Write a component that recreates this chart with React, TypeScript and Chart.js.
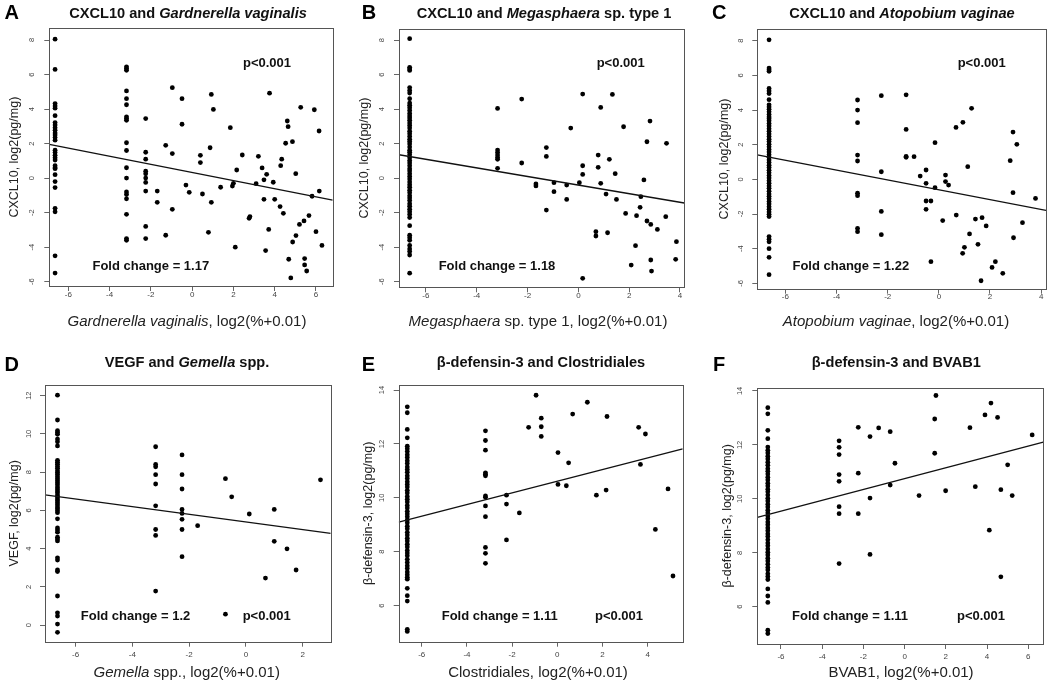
import React, { useEffect, useRef } from "react";
import { Chart, registerables } from "chart.js";

Chart.register(...registerables);

const FONT = '"Liberation Sans", Arial, Helvetica, sans-serif';

// discrete x positions: log2(% + 0.01) for 0, 0.1, 0.2, 0.3 %
const X_NONE = -6.64;
const X_01 = -3.18;
const X_02 = -2.25;
const X_03 = -1.68;

// ---------- Panel A: CXCL10 vs Gardnerella vaginalis ----------
const aColNone = [8.05, 6.3, 4.32, 4.18, 4.05, 3.62, 3.22, 3.08, 2.92, 2.78, 2.62, 2.5, 2.35, 2.2, 1.62, 1.48, 1.32, 1.18, 1.05, 0.72, 0.6, 0.55, 0.2, -0.2, -0.55, -1.75, -1.95, -4.5, -5.5];
const aCol01 = [6.45, 6.35, 6.25, 5.05, 4.6, 4.25, 3.55, 3.45, 3.35, 2.05, 1.6, 0.6, 0.0, -0.8, -0.95, -1.2, -2.1, -3.5, -3.6];
const aCol02 = [3.45, 1.5, 1.1, 0.4, 0.25, 0.0, -0.25, -0.75, -2.8, -3.5];
const aScatter: [number, number][] = [
  [-1.69, -0.75], [-1.69, -1.4], [-1.28, 1.9], [-1.28, -3.31], [-0.96, 5.24], [-0.96, 1.42], [-0.96, -1.81],
  [-0.49, 4.6], [-0.49, 3.12], [-0.3, -0.4], [-0.14, -0.82], [0.4, 1.32], [0.4, 0.9], [0.5, -0.92],
  [0.79, -3.14], [0.87, 1.76], [0.93, -1.4], [0.93, 4.85], [1.03, 3.98], [1.38, -0.53], [1.85, 2.92],
  [1.95, -0.46], [2.0, -0.3], [2.09, -4.0], [2.16, 0.47], [2.43, 1.34], [2.76, -2.33], [2.8, -2.23],
  [3.1, -0.32], [3.21, 1.26], [3.75, 4.92], [3.39, 0.59], [3.48, -1.23], [3.48, -0.1], [3.61, 0.22],
  [3.56, -4.2], [3.71, -2.97], [3.93, -0.24], [4.0, -1.23], [4.26, -1.65], [4.29, 0.72], [4.34, 1.1],
  [4.42, -2.04], [4.53, 2.02], [4.61, 3.31], [4.65, 2.98], [4.68, -4.7], [4.78, -5.78], [4.86, 2.11],
  [4.87, -3.7], [5.03, -3.33], [5.02, 0.26], [5.2, -2.68], [5.26, 4.1], [5.42, -2.48], [5.45, -4.66],
  [5.45, -5.03], [5.55, -5.38], [5.66, -2.17], [5.81, -1.05], [5.92, 3.96], [6.0, -3.1], [6.15, 2.73],
  [6.16, -0.75], [6.29, -3.9],
];
const aFit: [number, number] = [0.33, -0.235]; // intercept, slope

// ---------- Panel B: CXCL10 vs Megasphaera sp. type 1 ----------
const bColNone = [8.08, 6.42, 6.33, 6.24, 5.25, 5.08, 4.93, 4.6, 4.35, 4.22, 4.08, 3.92, 3.75, 3.6, 3.48, 3.35, 3.2, 3.05, 2.9, 2.72, 2.58, 2.42, 2.25, 2.12, 1.98, 1.8, 1.62, 1.5, 1.35, 1.18, 1.02, 0.88, 0.72, 0.55, 0.42, 0.25, 0.1, -0.05, -0.22, -0.38, -0.52, -0.7, -0.85, -1.02, -1.15, -1.3, -1.48, -1.62, -1.8, -1.95, -2.1, -2.28, -2.75, -3.3, -3.45, -3.6, -3.9, -4.1, -4.25, -4.45, -5.5];
const bCol01 = [4.04, 1.63, 1.48, 1.34, 1.2, 1.09, 0.57];
const bScatter: [number, number][] = [
  [-2.23, 4.58], [-2.23, 0.88], [-1.67, -0.33], [-1.67, -0.45], [-1.26, 1.77], [-1.26, 1.26], [-1.26, -1.85],
  [-0.96, -0.26], [-0.96, -0.78], [-0.46, -0.4], [-0.46, -1.23], [-0.3, 2.9], [0.04, -0.26], [0.17, 4.87],
  [0.17, 0.72], [0.17, 0.22], [0.17, -5.8], [0.69, -3.1], [0.69, -3.35], [0.78, 1.34], [0.78, 0.63],
  [0.88, 4.1], [0.88, -0.3], [1.09, -0.92], [1.15, -3.16], [1.22, 1.09], [1.34, 4.85], [1.45, 0.26],
  [1.5, -1.23], [1.78, 2.98], [1.86, -2.04], [2.08, -5.03], [2.25, -3.91], [2.29, -2.17], [2.43, -1.69],
  [2.46, -1.07], [2.58, -0.1], [2.7, 2.11], [2.7, -2.48], [2.82, 3.31], [2.85, -2.68], [2.85, -4.74],
  [2.88, -5.38], [3.11, -2.97], [3.44, -2.23], [3.47, 2.02], [3.83, -4.7], [3.86, -3.68],
];
const bFit: [number, number] = [-0.4, -0.249];

// ---------- Panel C: CXCL10 vs Atopobium vaginae ----------
const cColNone = [8.05, 6.42, 6.33, 6.24, 5.25, 5.1, 4.95, 4.6, 4.3, 4.18, 4.05, 3.9, 3.75, 3.6, 3.5, 3.38, 3.22, 3.08, 2.92, 2.78, 2.62, 2.48, 2.32, 2.18, 2.02, 1.88, 1.72, 1.58, 1.42, 1.28, 1.12, 0.98, 0.82, 0.68, 0.52, 0.38, 0.22, 0.08, -0.08, -0.22, -0.38, -0.52, -0.68, -0.85, -0.98, -1.12, -1.28, -1.42, -1.58, -1.72, -1.88, -2.02, -2.15, -3.3, -3.45, -3.6, -4.0, -4.5, -5.5];
const cCol01 = [4.58, 4.0, 3.27, 1.4, 1.06, -0.8, -0.94, -2.83, -3.02];
const cCol02 = [4.83, 0.44, -1.85, -3.19];
const cScatter: [number, number][] = [
  [-1.28, 4.88], [-1.28, 2.88], [-1.28, 1.33], [-1.28, 1.27], [-0.97, 1.31], [-0.73, 0.19], [-0.5, 0.54],
  [-0.5, -0.23], [-0.5, -1.25], [-0.5, -1.73], [-0.31, -1.25], [-0.31, -4.75], [-0.15, 2.12], [-0.15, -0.48],
  [0.15, -2.38], [0.26, 0.25], [0.26, -0.13], [0.38, -0.33], [0.67, 3.0], [0.68, -2.06], [0.94, 3.29],
  [0.93, -4.27], [1.0, -3.92], [1.13, 0.73], [1.2, -3.15], [1.28, 4.1], [1.43, -2.29], [1.53, -3.75],
  [1.65, -5.85], [1.69, -2.21], [1.85, -2.69], [2.08, -5.08], [2.21, -4.75], [2.5, -5.42], [2.79, 1.08],
  [2.9, 2.73], [2.9, -0.77], [2.92, -3.37], [3.05, 2.02], [3.27, -2.5], [3.78, -1.1],
];
const cFit: [number, number] = [-0.6, -0.284];

// ---------- Panel D: VEGF vs Gemella spp. ----------
const dColNone = [12.03, 10.73, 10.17, 10.08, 9.98, 9.73, 9.59, 9.37, 8.62, 8.52, 8.42, 8.3, 8.2, 8.08, 7.98, 7.88, 7.76, 7.66, 7.55, 7.45, 7.34, 7.22, 7.12, 7.02, 6.92, 6.8, 6.7, 6.6, 6.5, 6.4, 6.3, 6.18, 6.08, 5.98, 5.88, 5.56, 5.08, 4.97, 4.86, 4.6, 4.5, 4.4, 3.52, 3.4, 2.88, 2.8, 1.52, 0.64, 0.47, 0.05, -0.38];
const dCol01 = [9.33, 8.4, 8.28, 7.87, 7.38, 6.24, 5.0, 4.69, 1.78];
const dCol02 = [8.9, 7.87, 7.12, 6.05, 5.84, 5.53, 5.0, 3.58];
const dScatter: [number, number][] = [
  [-1.7, 5.2], [-0.72, 7.66], [-0.72, 0.57], [-0.5, 6.71], [0.12, 5.81], [0.69, 2.46], [1.0, 6.05],
  [1.0, 4.38], [1.45, 3.99], [1.77, 2.88], [2.63, 7.6],
];
const dFit: [number, number] = [5.4, -0.2];

// ---------- Panel E: beta-defensin-3 vs Clostridiales ----------
const eColNone = [13.38, 13.16, 12.54, 12.23, 11.92, 11.82, 11.72, 11.6, 11.5, 11.38, 11.28, 11.15, 11.05, 10.95, 10.82, 10.72, 10.6, 10.5, 10.4, 10.28, 10.18, 10.05, 9.95, 9.85, 9.72, 9.62, 9.5, 9.4, 9.3, 9.18, 9.08, 8.95, 8.85, 8.72, 8.62, 8.5, 8.4, 8.28, 8.18, 8.05, 7.95, 7.85, 7.72, 7.6, 7.48, 7.38, 7.25, 7.15, 7.05, 6.98, 6.64, 6.37, 6.17, 5.12, 5.04];
const eCol01 = [12.49, 12.13, 11.77, 10.93, 10.88, 10.82, 10.07, 10.02, 9.7, 9.3, 8.16, 7.94, 7.57];
const eCol02 = [10.1, 9.77, 8.44];
const eScatter: [number, number][] = [
  [-1.68, 9.44], [-1.27, 12.62], [-0.94, 13.81], [-0.71, 12.96], [-0.71, 12.64], [-0.71, 12.28],
  [0.03, 11.68], [0.03, 10.5], [0.4, 10.45], [0.5, 11.3], [0.68, 13.11], [1.33, 13.55], [1.73, 10.1],
  [2.16, 10.29], [2.2, 13.02], [3.6, 12.62], [3.68, 11.24], [3.9, 12.37], [4.34, 8.83], [4.9, 10.33],
  [5.12, 7.1],
];
const eFit: [number, number] = [10.62, 0.216];

// ---------- Panel F: beta-defensin-3 vs BVAB1 ----------
const fColNone = [13.38, 13.15, 12.54, 12.23, 11.92, 11.8, 11.7, 11.58, 11.48, 11.36, 11.25, 11.12, 11.02, 10.92, 10.8, 10.7, 10.58, 10.48, 10.36, 10.26, 10.14, 10.02, 9.92, 9.8, 9.7, 9.58, 9.48, 9.36, 9.26, 9.14, 9.04, 8.92, 8.82, 8.7, 8.6, 8.48, 8.36, 8.26, 8.14, 8.02, 7.92, 7.8, 7.7, 7.58, 7.46, 7.36, 7.22, 7.12, 7.01, 6.66, 6.4, 6.16, 5.13, 5.01];
const fCol01 = [12.15, 11.91, 11.64, 10.9, 10.65, 9.71, 9.45, 7.6];
const fCol02 = [12.65, 10.95, 9.45];
const fCol03 = [12.31, 10.03, 7.94];
const fScatter: [number, number][] = [
  [-1.26, 12.63], [-0.7, 12.49], [-0.7, 10.51], [-0.47, 11.32], [0.7, 10.12], [1.46, 12.96], [1.46, 11.69],
  [1.52, 13.83], [1.99, 10.3], [3.17, 12.64], [3.43, 10.45], [3.9, 13.11], [4.11, 8.84], [4.19, 13.55],
  [4.51, 13.02], [4.67, 10.34], [4.67, 7.11], [5.0, 11.26], [5.22, 10.12], [6.19, 12.37],
];
const fFit: [number, number] = [10.75, 0.201];

// tick values
const cxclYTicks = [-6, -4, -2, 0, 2, 4, 6, 8];
const vegfYTicks = [0, 2, 4, 6, 8, 10, 12];
const defYTicks = [6, 8, 10, 12, 14];
const xTicksTo6 = [-6, -4, -2, 0, 2, 4, 6];
const xTicksTo4 = [-6, -4, -2, 0, 2, 4];
const xTicksTo2 = [-6, -4, -2, 0, 2];

type Seg = [string, boolean?];

interface PanelCfg {
  letter: string;
  rect: [number, number, number, number];
  area: [number, number, number, number];
  xRange: [number, number];
  yRange: [number, number];
  xTicks: number[];
  yTicks: number[];
  cols: [number, number[]][];
  scatter: [number, number][];
  fit: [number, number];
  title: Seg[];
  xTitle: Seg[];
  yTitle: string;
  fold: string;
  letterPos: [number, number];
  titlePos: [number, number];
  xTitlePos: [number, number];
  yTitleX: number;
  pPos: [number, number];
  foldPos: [number, number];
  xLabelY: number;
  yTickGap: number;
}

const LOG_UNIT = ", log2(%+0.01)";

const panels: PanelCfg[] = [
  {
    letter: "A", rect: [0, 0, 350, 343], area: [49.3, 28.3, 332.7, 286],
    xRange: [-6.92, 6.81], yRange: [-6.25, 8.68], xTicks: xTicksTo6, yTicks: cxclYTicks,
    cols: [[X_NONE, aColNone], [X_01, aCol01], [X_02, aCol02]], scatter: aScatter, fit: aFit,
    title: [["CXCL10 and "], ["Gardnerella vaginalis", true]],
    xTitle: [["Gardnerella vaginalis", true], [LOG_UNIT]], yTitle: "CXCL10, log2(pg/mg)",
    fold: "Fold change = 1.17",
    letterPos: [11.7, 13.5], titlePos: [188, 14], xTitlePos: [187, 321.7], yTitleX: 15,
    pPos: [267, 63.3], foldPos: [150.8, 266.7], xLabelY: 295, yTickGap: 17.3,
  },
  {
    letter: "B", rect: [350, 0, 350, 343], area: [399, 29, 684.3, 287.3],
    xRange: [-7.06, 4.17], yRange: [-6.32, 8.64], xTicks: xTicksTo4, yTicks: cxclYTicks,
    cols: [[X_NONE, bColNone], [X_01, bCol01]], scatter: bScatter, fit: bFit,
    title: [["CXCL10 and "], ["Megasphaera", true], [" sp. type 1"]],
    xTitle: [["Megasphaera", true], [" sp. type 1" + LOG_UNIT]], yTitle: "CXCL10, log2(pg/mg)",
    fold: "Fold change = 1.18",
    letterPos: [369, 13.5], titlePos: [544, 14], xTitlePos: [538, 321.7], yTitleX: 365,
    pPos: [620.7, 63.3], foldPos: [497, 266.7], xLabelY: 295.3, yTickGap: 17.3,
  },
  {
    letter: "C", rect: [700, 0, 350, 343], area: [757.3, 29.3, 1047.7, 288.7],
    xRange: [-7.1, 4.19], yRange: [-6.31, 8.66], xTicks: xTicksTo4, yTicks: cxclYTicks,
    cols: [[X_NONE, cColNone], [X_01, cCol01], [X_02, cCol02]], scatter: cScatter, fit: cFit,
    title: [["CXCL10 and "], ["Atopobium vaginae", true]],
    xTitle: [["Atopobium vaginae", true], [LOG_UNIT]], yTitle: "CXCL10, log2(pg/mg)",
    fold: "Fold change = 1.22",
    letterPos: [719.3, 13.5], titlePos: [902, 14], xTitlePos: [896, 321.7], yTitleX: 725,
    pPos: [981.7, 63.3], foldPos: [850.8, 266.7], xLabelY: 296.7, yTickGap: 16.6,
  },
  {
    letter: "D", rect: [0, 343, 350, 343], area: [45, 385, 330.7, 641.7],
    xRange: [-7.08, 2.99], yRange: [-0.87, 12.56], xTicks: xTicksTo2, yTicks: vegfYTicks,
    cols: [[X_NONE, dColNone], [X_01, dCol01], [X_02, dCol02]], scatter: dScatter, fit: dFit,
    title: [["VEGF and "], ["Gemella", true], [" spp."]],
    xTitle: [["Gemella", true], [" spp." + LOG_UNIT]], yTitle: "VEGF, log2(pg/mg)",
    fold: "Fold change = 1.2",
    letterPos: [11.7, 365.5], titlePos: [187, 363.3], xTitlePos: [186.7, 673.3], yTitleX: 15,
    pPos: [266.7, 616], foldPos: [135.5, 616], xLabelY: 655, yTickGap: 16,
  },
  {
    letter: "E", rect: [350, 343, 350, 343], area: [398.7, 385, 682.7, 641.7],
    xRange: [-7.02, 5.55], yRange: [4.66, 14.19], xTicks: xTicksTo4, yTicks: defYTicks,
    cols: [[X_NONE, eColNone], [X_01, eCol01], [X_02, eCol02]], scatter: eScatter, fit: eFit,
    title: [["β-defensin-3 and Clostridiales"]],
    xTitle: [["Clostridiales" + LOG_UNIT]], yTitle: "β-defensin-3, log2(pg/mg)",
    fold: "Fold change = 1.11",
    letterPos: [368.3, 365.5], titlePos: [541, 363.3], xTitlePos: [538, 673.3], yTitleX: 368.3,
    pPos: [619, 616], foldPos: [499.7, 616], xLabelY: 655, yTickGap: 17,
  },
  {
    letter: "F", rect: [700, 343, 350, 343], area: [757.3, 387.7, 1043.3, 644],
    xRange: [-7.15, 6.73], yRange: [4.62, 14.12], xTicks: xTicksTo6, yTicks: defYTicks,
    cols: [[X_NONE, fColNone], [X_01, fCol01], [X_02, fCol02], [X_03, fCol03]], scatter: fScatter, fit: fFit,
    title: [["β-defensin-3 and BVAB1"]],
    xTitle: [["BVAB1" + LOG_UNIT]], yTitle: "β-defensin-3, log2(pg/mg)",
    fold: "Fold change = 1.11",
    letterPos: [719.2, 365.5], titlePos: [896.3, 363.3], xTitlePos: [901, 673.3], yTitleX: 727.3,
    pPos: [981, 616], foldPos: [850, 616], xLabelY: 656.7, yTickGap: 17.3,
  },
];

const Y_AXIS_W = 20;
const X_AXIS_H = 20;
const TICK_LEN = 5;
const X_TICK_FONT = 8;
const Y_TICK_FONT = 7.5;

function drawSegs(ctx: CanvasRenderingContext2D, segs: Seg[], cx: number, cy: number, size: number, weight: string, color: string) {
  const fonts = segs.map(([, it]) => `${it ? "italic " : ""}${weight} ${size}px ${FONT}`);
  let total = 0;
  const widths = segs.map(([t], i) => {
    ctx.font = fonts[i];
    const w = ctx.measureText(t).width;
    total += w;
    return w;
  });
  let x = cx - total / 2;
  ctx.fillStyle = color;
  ctx.textAlign = "left";
  ctx.textBaseline = "middle";
  segs.forEach(([t], i) => {
    ctx.font = fonts[i];
    ctx.fillText(t, x, cy);
    x += widths[i];
  });
}

const decorPlugin = {
  id: "decor",
  afterDraw(chart: any, _args: any, o: any) {
    const p: PanelCfg = o.panel;
    if (!p) return;
    const { ctx, chartArea: a } = chart;
    const ox = p.rect[0];
    const oy = p.rect[1];
    ctx.save();
    // plot box
    ctx.strokeStyle = "#555";
    ctx.lineWidth = 1;
    const l = Math.round(a.left) + 0.5, t = Math.round(a.top) + 0.5;
    const r = Math.round(a.right) + 0.5, b = Math.round(a.bottom) + 0.5;
    ctx.strokeRect(l, t, r - l, b - t);
    // rotated y tick labels
    const ys = chart.scales.y;
    ctx.fillStyle = "#444";
    ctx.font = `${Y_TICK_FONT}px ${FONT}`;
    ctx.textAlign = "center";
    ctx.textBaseline = "middle";
    ys.ticks.forEach((tk: any) => {
      const py = ys.getPixelForValue(tk.value);
      ctx.save();
      ctx.translate(a.left - p.yTickGap, py);
      ctx.rotate(-Math.PI / 2);
      ctx.fillText(String(tk.value), 0, 0);
      ctx.restore();
    });
    // panel letter
    ctx.fillStyle = "#000";
    ctx.font = `bold 20px ${FONT}`;
    ctx.textAlign = "center";
    ctx.textBaseline = "middle";
    ctx.fillText(p.letter, p.letterPos[0] - ox, p.letterPos[1] - oy);
    // title
    drawSegs(ctx, p.title, p.titlePos[0] - ox, p.titlePos[1] - oy, 14.6, "bold", "#111");
    // x title
    drawSegs(ctx, p.xTitle, p.xTitlePos[0] - ox, p.xTitlePos[1] - oy, 15, "normal", "#222");
    // y title
    ctx.save();
    ctx.translate(p.yTitleX - ox, (a.top + a.bottom) / 2);
    ctx.rotate(-Math.PI / 2);
    drawSegs(ctx, [[p.yTitle]], 0, 0, 12.5, "normal", "#222");
    ctx.restore();
    // annotations
    drawSegs(ctx, [["p<0.001"]], p.pPos[0] - ox, p.pPos[1] - oy, 13, "bold", "#111");
    drawSegs(ctx, [[p.fold]], p.foldPos[0] - ox, p.foldPos[1] - oy, 13, "bold", "#111");
    ctx.restore();
  },
};

function buildConfig(p: PanelCfg): any {
  const [cx, cy, cw, ch] = p.rect;
  const [L, T, R, B] = p.area;
  const points: { x: number; y: number }[] = [];
  p.cols.forEach(([x, ys]) => ys.forEach((y) => points.push({ x, y })));
  p.scatter.forEach(([x, y]) => points.push({ x, y }));
  const [icpt, slope] = p.fit;
  const fitLine = p.xRange.map((x) => ({ x, y: icpt + slope * x }));
  const xPad = p.xLabelY - B - TICK_LEN - (X_TICK_FONT * 1.2) / 2;
  return {
    type: "scatter",
    data: {
      datasets: [
        {
          type: "line",
          data: fitLine,
          borderColor: "#111",
          borderWidth: 1.3,
          pointRadius: 0,
          fill: false,
          tension: 0,
        },
        {
          type: "scatter",
          data: points,
          pointRadius: 2.4,
          pointBackgroundColor: "#000",
          pointBorderColor: "#000",
          pointBorderWidth: 0,
        },
      ],
    },
    options: {
      responsive: false,
      animation: false,
      devicePixelRatio: 1,
      events: [],
      layout: {
        padding: {
          left: L - cx - Y_AXIS_W,
          top: T - cy,
          right: cx + cw - R,
          bottom: cy + ch - B - X_AXIS_H,
        },
      },
      plugins: {
        legend: { display: false },
        tooltip: { enabled: false },
        title: { display: false },
        decor: { panel: p },
      },
      scales: {
        x: {
          type: "linear",
          position: "bottom",
          min: p.xRange[0],
          max: p.xRange[1],
          afterBuildTicks: (s: any) => {
            s.ticks = p.xTicks.map((v) => ({ value: v }));
          },
          afterFit: (s: any) => {
            s.height = X_AXIS_H;
          },
          ticks: {
            font: { size: X_TICK_FONT, family: FONT },
            color: "#444",
            padding: xPad,
            maxRotation: 0,
            minRotation: 0,
            callback: (v: any) => String(v),
          },
          grid: { drawOnChartArea: false, drawTicks: true, tickLength: TICK_LEN, color: "#666", lineWidth: 1 },
          border: { display: false },
        },
        y: {
          type: "linear",
          position: "left",
          min: p.yRange[0],
          max: p.yRange[1],
          afterBuildTicks: (s: any) => {
            s.ticks = p.yTicks.map((v) => ({ value: v }));
          },
          afterFit: (s: any) => {
            s.width = Y_AXIS_W;
          },
          ticks: { display: false },
          grid: { drawOnChartArea: false, drawTicks: true, tickLength: TICK_LEN, color: "#666", lineWidth: 1 },
          border: { display: false },
        },
      },
    },
    plugins: [decorPlugin],
  };
}

function Panel({ p }: { p: PanelCfg }) {
  const ref = useRef<HTMLCanvasElement | null>(null);
  useEffect(() => {
    if (!ref.current) return;
    const chart = new Chart(ref.current, buildConfig(p));
    return () => chart.destroy();
  }, [p]);
  const [x, y, w, h] = p.rect;
  return (
    <canvas
      ref={ref}
      width={w}
      height={h}
      style={{ position: "absolute", left: x, top: y, width: w, height: h }}
    />
  );
}

export default function App() {
  return (
    <div
      style={{
        position: "absolute",
        left: 0,
        top: 0,
        width: 1050,
        height: 686,
        background: "#fff",
        overflow: "hidden",
      }}
    >
      {panels.map((p) => (
        <Panel key={p.letter} p={p} />
      ))}
    </div>
  );
}
